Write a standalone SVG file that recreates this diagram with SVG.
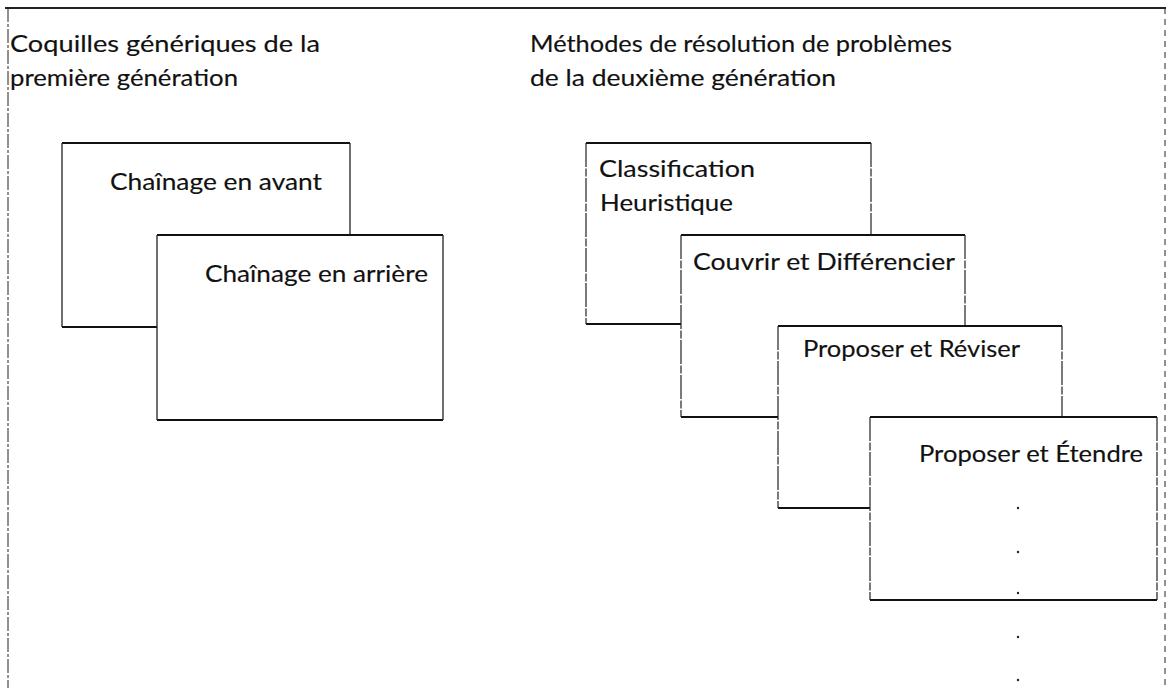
<svg xmlns="http://www.w3.org/2000/svg" width="1169" height="688" viewBox="0 0 1169 688">
<style>
  .t { font-family: "Lato", "Liberation Sans", sans-serif; font-size: 24px; fill: #111; stroke: #111; stroke-width: 0.15; }
  .bg { fill: #fff; stroke: none; }
  .h { stroke: #111; stroke-width: 2; fill: none; }
  .v { stroke: #222; stroke-width: 1.3; fill: none; }
  .vd { stroke: #222; stroke-width: 1.2; fill: none; stroke-dasharray: 24 1.5 8 1.5; }
  .frame { stroke: #222; fill: none; }
  .dot { fill: #222; }
</style>
<rect x="0" y="0" width="1169" height="688" fill="#fff"/>
<g id="frame">
  <line class="frame" x1="5" y1="8" x2="1166" y2="8" stroke-width="2.2"/>
  <line class="frame" x1="8" y1="8" x2="8" y2="688" stroke-width="1" stroke-dasharray="14 2 3 2"/>
  <line class="frame" x1="1165" y1="8" x2="1165" y2="688" stroke-width="1" stroke="#888" stroke-dasharray="6 5"/>
</g>
<g id="title-left">
  <text class="t" x="10" y="52" textLength="310" lengthAdjust="spacingAndGlyphs">Coquilles génériques de la</text>
  <text class="t" x="10" y="86" textLength="228" lengthAdjust="spacingAndGlyphs">première génération</text>
</g>
<g id="title-right">
  <text class="t" x="530" y="52" textLength="422" lengthAdjust="spacingAndGlyphs">Méthodes de résolution de problèmes</text>
  <text class="t" x="530" y="86" textLength="306" lengthAdjust="spacingAndGlyphs">de la deuxième génération</text>
</g>
<g id="node-chainage-avant">
  <rect class="bg" x="62" y="143" width="288" height="184"/>
  <path class="h" d="M62 143H350M62 327H350"/>
  <path class="v" d="M62 143V327M350 143V327"/>
  <text class="t" x="110" y="190" textLength="212" lengthAdjust="spacingAndGlyphs">Chaînage en avant</text>
</g>
<g id="node-chainage-arriere">
  <rect class="bg" x="157" y="235" width="286" height="185"/>
  <path class="h" d="M157 235H443M157 420H443"/>
  <path class="v" d="M157 235V420M443 235V420"/>
  <text class="t" x="205" y="282" textLength="223" lengthAdjust="spacingAndGlyphs">Chaînage en arrière</text>
</g>
<g id="node-classification">
  <rect class="bg" x="586" y="143" width="285" height="181"/>
  <path class="h" d="M586 143H871M586 324H871"/>
  <path class="vd" d="M586 143V324M871 143V324"/>
  <text class="t" x="599" y="177" textLength="156" lengthAdjust="spacingAndGlyphs">Classification</text>
  <text class="t" x="600" y="211" textLength="133" lengthAdjust="spacingAndGlyphs">Heuristique</text>
</g>
<g id="node-couvrir">
  <rect class="bg" x="681" y="235" width="284" height="182"/>
  <path class="h" d="M681 235H965M681 417H965"/>
  <path class="vd" d="M681 235V417M965 235V417"/>
  <text class="t" x="693" y="270" textLength="262" lengthAdjust="spacingAndGlyphs">Couvrir et Différencier</text>
</g>
<g id="node-proposer-reviser">
  <rect class="bg" x="778" y="326" width="284" height="182"/>
  <path class="h" d="M778 326H1062M778 508H1062"/>
  <path class="vd" d="M778 326V508M1062 326V508"/>
  <text class="t" x="803" y="357" textLength="217" lengthAdjust="spacingAndGlyphs">Proposer et Réviser</text>
</g>
<g id="node-proposer-etendre">
  <rect class="bg" x="870" y="417" width="287" height="183"/>
  <path class="h" d="M870 417H1157M870 600H1157"/>
  <path class="vd" d="M870 417V600M1157 417V600"/>
  <text class="t" x="919" y="462" textLength="224" lengthAdjust="spacingAndGlyphs">Proposer et Étendre</text>
  <circle class="dot" cx="1018" cy="508" r="1.2"/>
  <circle class="dot" cx="1018" cy="552" r="1.2"/>
  <circle class="dot" cx="1018" cy="593" r="1.2"/>
  <circle class="dot" cx="1018" cy="637" r="1.2"/>
  <circle class="dot" cx="1018" cy="680" r="1.2"/>
</g>
<g id="connectors"></g>
</svg>
